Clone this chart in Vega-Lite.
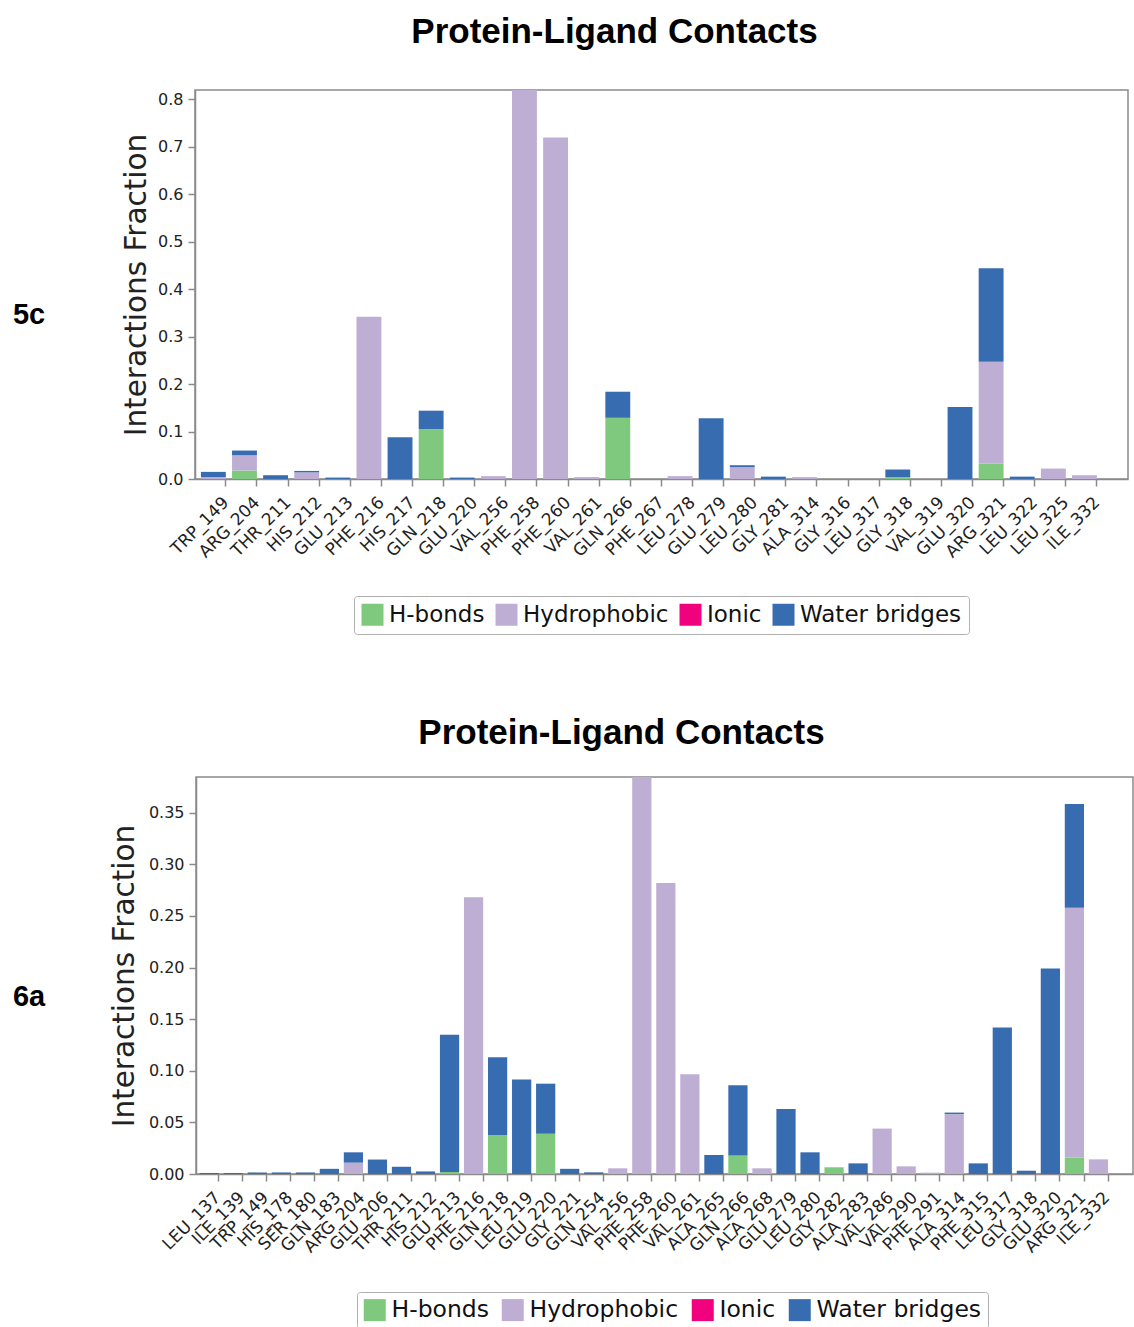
{
  "$schema": "https://vega.github.io/schema/vega-lite/v6.json",
  "padding": {"left": 0, "top": 14, "right": 0, "bottom": 0},
  "background": "white",
  "config": {
    "view": {"stroke": "#8a8a8a", "strokeWidth": 1.5},
    "axis": {"domainColor": "#8a8a8a", "tickColor": "#8a8a8a", "domainWidth": 1.5, "tickWidth": 1.5, "tickSize": 7, "labelColor": "#222222", "labelFont": "DejaVu Sans", "titleFont": "DejaVu Sans", "titleFontWeight": "normal", "titleColor": "#222222", "grid": false},
    "title": {"font": "Liberation Sans", "fontWeight": "bold", "fontSize": 35, "color": "#000000"}
  },
  "datasets": {
    "top": [
      {"res": "TRP_149", "type": "Hydrophobic", "v": 0.004},
      {"res": "TRP_149", "type": "Water bridges", "v": 0.011},
      {"res": "ARG_204", "type": "H-bonds", "v": 0.018},
      {"res": "ARG_204", "type": "Hydrophobic", "v": 0.032},
      {"res": "ARG_204", "type": "Water bridges", "v": 0.010},
      {"res": "THR_211", "type": "Water bridges", "v": 0.008},
      {"res": "HIS_212", "type": "Hydrophobic", "v": 0.014},
      {"res": "HIS_212", "type": "Water bridges", "v": 0.003},
      {"res": "GLU_213", "type": "Water bridges", "v": 0.003},
      {"res": "PHE_216", "type": "Hydrophobic", "v": 0.342},
      {"res": "HIS_217", "type": "Water bridges", "v": 0.088},
      {"res": "GLN_218", "type": "H-bonds", "v": 0.105},
      {"res": "GLN_218", "type": "Water bridges", "v": 0.039},
      {"res": "GLU_220", "type": "Water bridges", "v": 0.003},
      {"res": "VAL_256", "type": "Hydrophobic", "v": 0.006},
      {"res": "PHE_258", "type": "Hydrophobic", "v": 0.82},
      {"res": "PHE_260", "type": "Hydrophobic", "v": 0.72},
      {"res": "VAL_261", "type": "Hydrophobic", "v": 0.004},
      {"res": "GLN_266", "type": "H-bonds", "v": 0.129},
      {"res": "GLN_266", "type": "Water bridges", "v": 0.055},
      {"res": "LEU_278", "type": "Hydrophobic", "v": 0.006},
      {"res": "GLU_279", "type": "Water bridges", "v": 0.128},
      {"res": "LEU_280", "type": "Hydrophobic", "v": 0.025},
      {"res": "LEU_280", "type": "Water bridges", "v": 0.004},
      {"res": "GLY_281", "type": "Water bridges", "v": 0.005},
      {"res": "ALA_314", "type": "Hydrophobic", "v": 0.004},
      {"res": "GLY_318", "type": "H-bonds", "v": 0.004},
      {"res": "GLY_318", "type": "Water bridges", "v": 0.016},
      {"res": "GLU_320", "type": "Water bridges", "v": 0.152},
      {"res": "ARG_321", "type": "H-bonds", "v": 0.032},
      {"res": "ARG_321", "type": "Hydrophobic", "v": 0.215},
      {"res": "ARG_321", "type": "Water bridges", "v": 0.197},
      {"res": "LEU_322", "type": "Water bridges", "v": 0.005},
      {"res": "LEU_325", "type": "Hydrophobic", "v": 0.022},
      {"res": "ILE_332", "type": "Hydrophobic", "v": 0.008}
    ],
    "bottom": [
      {"res": "LEU_137", "type": "Water bridges", "v": 0.001},
      {"res": "ILE_139", "type": "Water bridges", "v": 0.001},
      {"res": "TRP_149", "type": "Water bridges", "v": 0.0015},
      {"res": "HIS_178", "type": "Water bridges", "v": 0.0015},
      {"res": "SER_180", "type": "Water bridges", "v": 0.0015},
      {"res": "GLN_183", "type": "Water bridges", "v": 0.005},
      {"res": "ARG_204", "type": "Hydrophobic", "v": 0.011},
      {"res": "ARG_204", "type": "Water bridges", "v": 0.010},
      {"res": "GLU_206", "type": "Water bridges", "v": 0.014},
      {"res": "THR_211", "type": "Water bridges", "v": 0.007},
      {"res": "HIS_212", "type": "Water bridges", "v": 0.0025},
      {"res": "GLU_213", "type": "H-bonds", "v": 0.002},
      {"res": "GLU_213", "type": "Water bridges", "v": 0.133},
      {"res": "PHE_216", "type": "Hydrophobic", "v": 0.268},
      {"res": "GLN_218", "type": "H-bonds", "v": 0.0375},
      {"res": "GLN_218", "type": "Water bridges", "v": 0.0755},
      {"res": "LEU_219", "type": "Water bridges", "v": 0.0915},
      {"res": "GLU_220", "type": "H-bonds", "v": 0.039},
      {"res": "GLU_220", "type": "Water bridges", "v": 0.0485},
      {"res": "GLY_221", "type": "Water bridges", "v": 0.005},
      {"res": "GLN_254", "type": "Water bridges", "v": 0.0016},
      {"res": "VAL_256", "type": "Hydrophobic", "v": 0.0055},
      {"res": "PHE_258", "type": "Hydrophobic", "v": 0.385},
      {"res": "PHE_260", "type": "Hydrophobic", "v": 0.282},
      {"res": "VAL_261", "type": "Hydrophobic", "v": 0.0966},
      {"res": "ALA_265", "type": "Water bridges", "v": 0.0184},
      {"res": "GLN_266", "type": "H-bonds", "v": 0.018},
      {"res": "GLN_266", "type": "Water bridges", "v": 0.068},
      {"res": "ALA_268", "type": "Hydrophobic", "v": 0.0055},
      {"res": "GLU_279", "type": "Water bridges", "v": 0.063},
      {"res": "LEU_280", "type": "Water bridges", "v": 0.021},
      {"res": "GLY_282", "type": "H-bonds", "v": 0.0065},
      {"res": "ALA_283", "type": "Water bridges", "v": 0.0103},
      {"res": "VAL_286", "type": "Hydrophobic", "v": 0.044},
      {"res": "VAL_290", "type": "Hydrophobic", "v": 0.0074},
      {"res": "PHE_291", "type": "Hydrophobic", "v": 0.0013},
      {"res": "ALA_314", "type": "Hydrophobic", "v": 0.058},
      {"res": "ALA_314", "type": "Water bridges", "v": 0.0015},
      {"res": "PHE_315", "type": "Water bridges", "v": 0.0103},
      {"res": "LEU_317", "type": "Water bridges", "v": 0.142},
      {"res": "GLY_318", "type": "Water bridges", "v": 0.0032},
      {"res": "GLU_320", "type": "Water bridges", "v": 0.199},
      {"res": "ARG_321", "type": "H-bonds", "v": 0.016},
      {"res": "ARG_321", "type": "Hydrophobic", "v": 0.242},
      {"res": "ARG_321", "type": "Water bridges", "v": 0.1004},
      {"res": "ILE_332", "type": "Hydrophobic", "v": 0.0142}
    ]
  },
  "resolve": {"legend": {"color": "independent"}},
  "spacing": 79,
  "vconcat": [
    {
      "spacing": 62,
      "resolve": {"legend": {"color": "independent"}},
      "hconcat": [
        {
          "width": 58, "height": 449,
          "view": {"stroke": null},
          "data": {"values": [{"label": "5c"}]},
          "mark": {"type": "text", "font": "Liberation Sans", "fontWeight": "bold", "fontSize": 29, "color": "#000000"},
          "encoding": {"text": {"field": "label", "type": "nominal"}}
        },
        {
          "width": 933, "height": 389,
          "title": {"text": "Protein-Ligand Contacts", "dx": -47, "offset": 40},
          "data": {"name": "top"},
          "mark": {"type": "bar", "clip": true},
          "encoding": {
            "x": {"field": "res", "type": "nominal",
              "scale": {"domain": ["TRP_149","ARG_204","THR_211","HIS_212","GLU_213","PHE_216","HIS_217","GLN_218","GLU_220","VAL_256","PHE_258","PHE_260","VAL_261","GLN_266","PHE_267","LEU_278","GLU_279","LEU_280","GLY_281","ALA_314","GLY_316","LEU_317","GLY_318","VAL_319","GLU_320","ARG_321","LEU_322","LEU_325","ILE_332"], "paddingInner": 0.2, "paddingOuter": 0.595, "align": 0.16},
              "axis": {"title": null, "labelAngle": -45, "bandPosition": 1, "labelFontSize": 17, "labelPadding": 8, "labelOffset": 7}},
            "y": {"field": "v", "type": "quantitative", "stack": "zero",
              "scale": {"domain": [0, 0.82], "nice": false},
              "axis": {"title": "Interactions Fraction", "values": [0, 0.1, 0.2, 0.3, 0.4, 0.5, 0.6, 0.7, 0.8], "format": ".1f", "labelFontSize": 16, "titleFontSize": 29.5, "labelPadding": 5, "titlePadding": 6}},
            "color": {"field": "type", "type": "nominal",
              "scale": {"domain": ["H-bonds", "Hydrophobic", "Ionic", "Water bridges"], "range": ["#7fc97f", "#beaed4", "#f0027f", "#386cb0"]},
              "legend": {"orient": "none", "legendX": 159, "legendY": 506, "direction": "horizontal", "title": null, "symbolType": "square", "symbolSize": 484, "symbolStrokeWidth": 0, "symbolOpacity": 1, "labelFontSize": 23, "labelFont": "DejaVu Sans", "labelColor": "#111111", "labelLimit": 400, "strokeColor": "#b0b0b0", "fillColor": "white", "padding": 7, "cornerRadius": 3, "columnPadding": 10, "labelOffset": 5}},
            "order": {"field": "type", "sort": "ascending"}
          }
        }
      ]
    },
    {
      "spacing": 50,
      "resolve": {"legend": {"color": "independent"}},
      "hconcat": [
        {
          "width": 58, "height": 439,
          "view": {"stroke": null},
          "data": {"values": [{"label": "6a"}]},
          "mark": {"type": "text", "font": "Liberation Sans", "fontWeight": "bold", "fontSize": 29, "color": "#000000"},
          "encoding": {"text": {"field": "label", "type": "nominal"}}
        },
        {
          "width": 937, "height": 397,
          "title": {"text": "Protein-Ligand Contacts", "dx": -43, "offset": 26},
          "data": {"name": "bottom"},
          "mark": {"type": "bar", "clip": true},
          "encoding": {
            "x": {"field": "res", "type": "nominal",
              "scale": {"domain": ["LEU_137","ILE_139","TRP_149","HIS_178","SER_180","GLN_183","ARG_204","GLU_206","THR_211","HIS_212","GLU_213","PHE_216","GLN_218","LEU_219","GLU_220","GLY_221","GLN_254","VAL_256","PHE_258","PHE_260","VAL_261","ALA_265","GLN_266","ALA_268","GLU_279","LEU_280","GLY_282","ALA_283","VAL_286","VAL_290","PHE_291","ALA_314","PHE_315","LEU_317","GLY_318","GLU_320","ARG_321","ILE_332"], "paddingInner": 0.2, "paddingOuter": 0.594, "align": 0.126},
              "axis": {"title": null, "labelAngle": -45, "bandPosition": 1, "labelFontSize": 17, "labelPadding": 8, "labelOffset": 3}},
            "y": {"field": "v", "type": "quantitative", "stack": "zero",
              "scale": {"domain": [0, 0.3846], "nice": false},
              "axis": {"title": "Interactions Fraction", "values": [0, 0.05, 0.1, 0.15, 0.2, 0.25, 0.3, 0.35], "format": ".2f", "labelFontSize": 16, "titleFontSize": 29.5, "labelPadding": 5, "titlePadding": 9}},
            "color": {"field": "type", "type": "nominal",
              "scale": {"domain": ["H-bonds", "Hydrophobic", "Ionic", "Water bridges"], "range": ["#7fc97f", "#beaed4", "#f0027f", "#386cb0"]},
              "legend": {"orient": "none", "legendX": 161, "legendY": 515, "direction": "horizontal", "title": null, "symbolType": "square", "symbolSize": 484, "symbolStrokeWidth": 0, "symbolOpacity": 1, "labelFontSize": 23.5, "labelFont": "DejaVu Sans", "labelColor": "#111111", "labelLimit": 400, "strokeColor": "#b0b0b0", "fillColor": "white", "padding": 6, "cornerRadius": 3, "columnPadding": 12, "labelOffset": 5}},
            "order": {"field": "type", "sort": "ascending"}
          }
        }
      ]
    }
  ]
}
